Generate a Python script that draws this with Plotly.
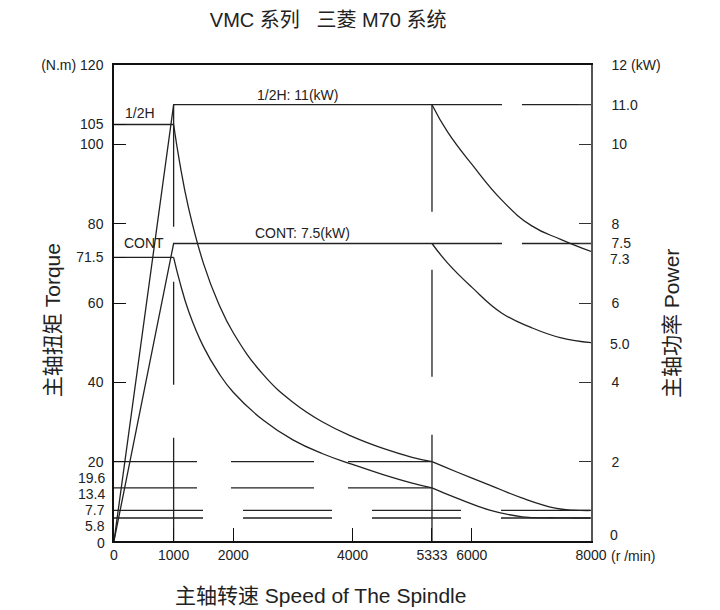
import plotly.graph_objects as go

# ---------------- data ----------------
# flat torque below base speed (N.m)
speed_low = [0, 1000]
half_torque_low = [105, 105]
cont_torque_low = [71.5, 71.5]

# constant-power torque region (N.m)
speed_mid = [1000, 1100, 1250, 1500, 1750, 2000, 2500, 3000, 3500, 4000, 4500, 5000, 5333]
half_torque_mid = [105, 95.5, 84, 70, 60, 52.5, 42, 35, 30, 26.3, 23.4, 21.1, 20]
cont_torque_mid = [71.5, 65.5, 58, 49, 42.5, 37.5, 30.5, 25.5, 22, 19.3, 16.8, 14.6, 13.4]

# high-speed region torque (N.m)
speed_high_t = [5333, 5750, 6300, 6850, 7400, 7700, 8000]
half_torque_high = [20, 17.4, 14.1, 10.8, 8.3, 7.8, 7.7]
cont_torque_high = [13.4, 10.8, 7.8, 6.1, 5.85, 5.8, 5.8]

# high-speed region power (kW)
speed_high_p = [5333, 5600, 6000, 6500, 7000, 7500, 8000]
half_power_high = [11, 10.3, 9.5, 8.6, 7.95, 7.6, 7.3]
cont_power_high = [7.5, 7.0, 6.4, 5.75, 5.38, 5.12, 5.0]

# power ramp + flat (kW)
speed_power = [0, 1000, 5333]
half_power = [0, 11, 11]
cont_power = [0, 7.5, 7.5]

# guide lines
guide_torque_mid = [20, 13.4]      # from 0 to 5333
guide_torque_low = [7.7, 5.8]      # from 0 to 8000
guide_power = [11, 7.5]            # from 5333 to 8000
guide_speeds = [1000, 5333]        # vertical guides
speed_max = 8000

# tick labels
x_ticks = [0, 1000, 2000, 4000, 5333, 6000, 8000]
x_tick_text = ["0", "1000", "2000", "4000", "5333", "6000", "8000"]
y_ticks = [20, 40, 60, 71.5, 80, 100, 105, 120]
y_tick_text = ["20", "40", "60", "71.5", "80", "100", "105", "(N.m) 120"]
y_extra_labels = [(19.6, "19.6", -15), (13.4, "13.4", -6), (7.7, "7.7", 0), (5.8, "5.8", -8), (0, "0", -2)]
y2_ticks = [2, 4, 6, 7.5, 8, 10, 11, 12]
y2_tick_text = ["2", "4", "6", "7.5", "8", "10", "11.0", "12 (kW)"]
y2_extra_labels = [(7.3, "7.3", -8), (5.0, "5.0", -1), (0, "0", 6)]

INK = "#222222"
FONT = "Liberation Sans, Arial, Noto Sans CJK SC, sans-serif"

fig = go.Figure()


def add_line(x, y, axis="y", dash=None, shape="linear", width=1.3, color=INK):
    ln = dict(color=color, width=width, shape=shape)
    if dash:
        ln["dash"] = dash
    if shape == "spline":
        ln["smoothing"] = 1.3
    fig.add_trace(go.Scatter(x=x, y=y, yaxis=axis, mode="lines", line=ln,
                             hoverinfo="skip", showlegend=False))


# guide lines
for lv in guide_torque_mid:
    add_line([0, guide_speeds[1]], [lv, lv], dash="83px,34px")
for lv in guide_torque_low:
    add_line([0, speed_max], [lv, lv], dash="89px,40px")
for lv in guide_power:
    add_line([guide_speeds[1], speed_max], [lv, lv], axis="y2", dash="70px,20px")
add_line([guide_speeds[0]] * 2, [half_power[1], 0], axis="y2", dash="122px,55px,103px,53px,103px")
add_line([guide_speeds[1]] * 2, [half_power[1], 0], axis="y2", dash="107px,58px")

# torque curves
add_line(speed_low, half_torque_low)
add_line(speed_low, cont_torque_low)
add_line(speed_mid, half_torque_mid, shape="spline")
add_line(speed_mid, cont_torque_mid, shape="spline")
add_line(speed_high_t, half_torque_high, shape="spline")
add_line(speed_high_t, cont_torque_high, shape="spline")

# power curves
add_line(speed_power, half_power, axis="y2")
add_line(speed_power, cont_power, axis="y2")
add_line(speed_high_p, half_power_high, axis="y2", shape="spline")
add_line(speed_high_p, cont_power_high, axis="y2", shape="spline")

tf = dict(size=14, color=INK, family=FONT)
big = dict(size=21, color=INK, family=FONT)
annotations = []
for v, t, sh in y_extra_labels:
    annotations.append(dict(xref="paper", yref="y", x=0, y=v, text=t, showarrow=False,
                            xanchor="right", yanchor="middle", xshift=-7, yshift=sh, font=tf))
for v, t, sh in y2_extra_labels:
    annotations.append(dict(xref="paper", yref="y2", x=1, y=v, text=t, showarrow=False,
                            xanchor="left", yanchor="middle", xshift=17, yshift=sh, font=tf))
annotations += [
    dict(xref="paper", yref="paper", x=1, y=0, text="(r /min)", showarrow=False,
         xanchor="left", yanchor="middle", xshift=18, yshift=-15, font=tf),
    dict(xref="x", yref="y", x=150, y=108, text="1/2H", showarrow=False,
         xanchor="left", yanchor="middle", font=tf),
    dict(xref="x", yref="y", x=130, y=75.1, text="CONT", showarrow=False,
         xanchor="left", yanchor="middle", font=tf),
    dict(xref="x", yref="y2", x=3070, y=11.24, text="1/2H: 11(kW)", showarrow=False,
         xanchor="center", yanchor="middle", font=tf),
    dict(xref="x", yref="y2", x=3154, y=7.76, text="CONT: 7.5(kW)", showarrow=False,
         xanchor="center", yanchor="middle", font=tf),
    dict(xref="paper", yref="paper", x=0.432, y=-0.115, text="主轴转速 Speed of The Spindle",
         showarrow=False, xanchor="center", yanchor="middle", font=big),
    dict(xref="paper", yref="paper", x=-0.130, y=0.464, text="主轴扭矩 Torque", textangle=-90,
         showarrow=False, xanchor="center", yanchor="middle", font=big),
    dict(xref="paper", yref="paper", x=1.170, y=0.456, text="主轴功率 Power", textangle=-90,
         showarrow=False, xanchor="center", yanchor="middle", font=big),
]

fig.update_layout(
    width=712, height=602,
    margin=dict(l=106, r=129, t=57, b=69, pad=0),
    paper_bgcolor="white", plot_bgcolor="white",
    font=dict(family=FONT, color=INK, size=14),
    title=dict(text="VMC 系列\u00a0\u00a0\u00a0三菱 M70 系统", x=0.449, xref="paper", xanchor="center",
               y=0.980, yref="container", yanchor="middle",
               font=dict(size=20, color=INK, family=FONT)),
    annotations=annotations,
    hovermode=False,
    showlegend=False,
    xaxis=dict(range=[0, 8000], showline=True, linecolor="#111", linewidth=1.5, mirror=True,
               ticks="inside", ticklen=13, tickcolor="#111", tickwidth=1.3,
               tickvals=x_ticks, ticktext=x_tick_text, showgrid=False, zeroline=False,
               tickfont=dict(size=14, color=INK)),
    yaxis=dict(range=[0, 120], showline=True, linecolor="#111", linewidth=1.5,
               ticks="inside", ticklen=12, tickcolor="#111", tickwidth=1.3,
               tickvals=y_ticks, ticktext=y_tick_text, showgrid=False, zeroline=False,
               ticklabelstandoff=6, tickfont=dict(size=14, color=INK)),
    yaxis2=dict(range=[0, 12], overlaying="y", side="right", showline=True, linecolor="#555",
                linewidth=1.5, ticks="inside", ticklen=12, tickcolor="#333", tickwidth=1.3,
                tickvals=y2_ticks, ticktext=y2_tick_text, showgrid=False, zeroline=False,
                ticklabelstandoff=16, tickfont=dict(size=14, color=INK)),
)

fig.write_html("out.html")
